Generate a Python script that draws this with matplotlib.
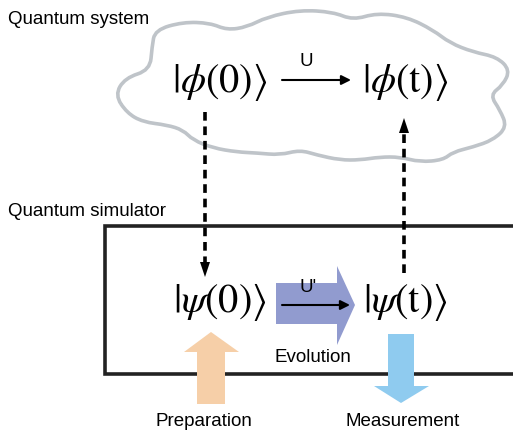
import numpy as np
import matplotlib
matplotlib.use("Agg")
import matplotlib.pyplot as plt
from matplotlib.path import Path
from matplotlib.patches import PathPatch, Polygon

plt.rcParams['font.family'] = ['Liberation Sans', 'DejaVu Sans']
plt.rcParams['mathtext.fontset'] = 'stix'

# labels
section_labels = ["Quantum system", "Quantum simulator"]
system_kets = [r"$|\phi(0)\rangle$", r"$|\phi(\mathrm{t})\rangle$"]
simulator_kets = [r"$|\psi(0)\rangle$", r"$|\psi(\mathrm{t})\rangle$"]
step_labels = ["Preparation", "Evolution", "Measurement"]
step_colors = ["#F6CFA8", "#919BCF", "#8FCBEF"]

# cloud outline (pixel coords)
cloud_x = [115, 125, 150, 152, 155, 183, 210, 227, 247, 267, 300, 333, 353, 377,
           407, 433, 450, 473, 497, 510, 503, 490, 500, 507, 493, 473, 453, 443,
           420, 400, 380, 360, 340, 317, 300, 280, 257, 237, 213, 193, 183, 167,
           143, 127]
cloud_y = [95, 78, 70, 47, 30, 22, 23, 30, 27, 17, 10, 12, 20, 13,
           17, 30, 43, 52, 57, 70, 85, 95, 110, 127, 140, 147, 152, 160,
           162, 157, 157, 160, 160, 155, 150, 155, 153, 152, 148, 140, 130, 125,
           122, 113]

fig = plt.figure(figsize=(5.13, 4.33), dpi=100)
ax = fig.add_axes([0, 0, 1, 1])
ax.set_xlim(0, 513)
ax.set_ylim(433, 0)
ax.axis('off')

# smooth cloud via quadratic curves through midpoints
pts = np.column_stack([cloud_x, cloud_y]).astype(float)
n = len(pts)
mids = (pts + np.roll(pts, -1, axis=0)) / 2
verts = [mids[-1]]
codes = [Path.MOVETO]
for i in range(n):
    verts += [pts[i], mids[i]]
    codes += [Path.CURVE3, Path.CURVE3]
ax.add_patch(PathPatch(Path(verts, codes), facecolor='white', edgecolor='#BFC4C9', lw=2.6))

ax.text(8, 20, section_labels[0], fontsize=13.5, va='center', ha='left')
ax.text(8, 211, section_labels[1], fontsize=13.5, va='center', ha='left')

# kets
ket_x = [220, 405]
for x, s in zip(ket_x, system_kets):
    ax.text(x, 82, s, fontsize=29, ha='center', va='center')
for x, s in zip(ket_x, simulator_kets):
    ax.text(x, 302, s, fontsize=29, ha='center', va='center')

# simulator box (right side runs off the picture)
ax.plot([530, 105, 105, 530], [226, 226, 374, 374], color='#222222', lw=2.6,
        solid_joinstyle='miter', zorder=2)

# evolution block arrow
ev = Polygon([(276, 283), (337, 283), (337, 266), (355, 305), (337, 345),
              (337, 324), (276, 324)], closed=True, fc=step_colors[1], ec='none', zorder=3)
ax.add_patch(ev)
# preparation block arrow (up)
pr = Polygon([(197, 404), (197, 352), (184, 352), (211, 332), (239, 352),
              (225, 352), (225, 404)], closed=True, fc=step_colors[0], ec='none', zorder=3)
ax.add_patch(pr)
# measurement block arrow (down)
me = Polygon([(388, 334), (414, 334), (414, 386), (429, 386), (401, 403),
              (374, 386), (388, 386)], closed=True, fc=step_colors[2], ec='none', zorder=3)
ax.add_patch(me)

# thin black arrows
ax.annotate('', xy=(351, 80), xytext=(282, 80),
            arrowprops=dict(arrowstyle='-|>', color='black', lw=1.5, mutation_scale=14,
                            shrinkA=0, shrinkB=0))
ax.text(306, 62, "U", fontsize=13.5, ha='center', va='center')
ax.annotate('', xy=(350, 305), xytext=(282, 305),
            arrowprops=dict(arrowstyle='-|>', color='black', lw=1.5, mutation_scale=14,
                            shrinkA=0, shrinkB=0), zorder=4)
ax.text(308, 288, "U'", fontsize=13.5, ha='center', va='center', zorder=4)

# dashed arrows between system and simulator
ax.plot([205, 205], [112, 262], color='black', lw=2.6, ls=(0, (2.4, 1.6)))
ax.add_patch(Polygon([(200, 262), (210, 262), (205, 277)], closed=True, fc='black', ec='none'))
ax.plot([404, 404], [273, 133], color='black', lw=2.6, ls=(0, (2.4, 1.6)))
ax.add_patch(Polygon([(399, 133), (409, 133), (404, 118)], closed=True, fc='black', ec='none'))

ax.text(313, 357, step_labels[1], fontsize=13.5, ha='center', va='center', zorder=4)
ax.text(204, 422, step_labels[0], fontsize=13.5, ha='center', va='center')
ax.text(403, 422, step_labels[2], fontsize=13.5, ha='center', va='center')

fig.savefig("out.png", dpi=100)
